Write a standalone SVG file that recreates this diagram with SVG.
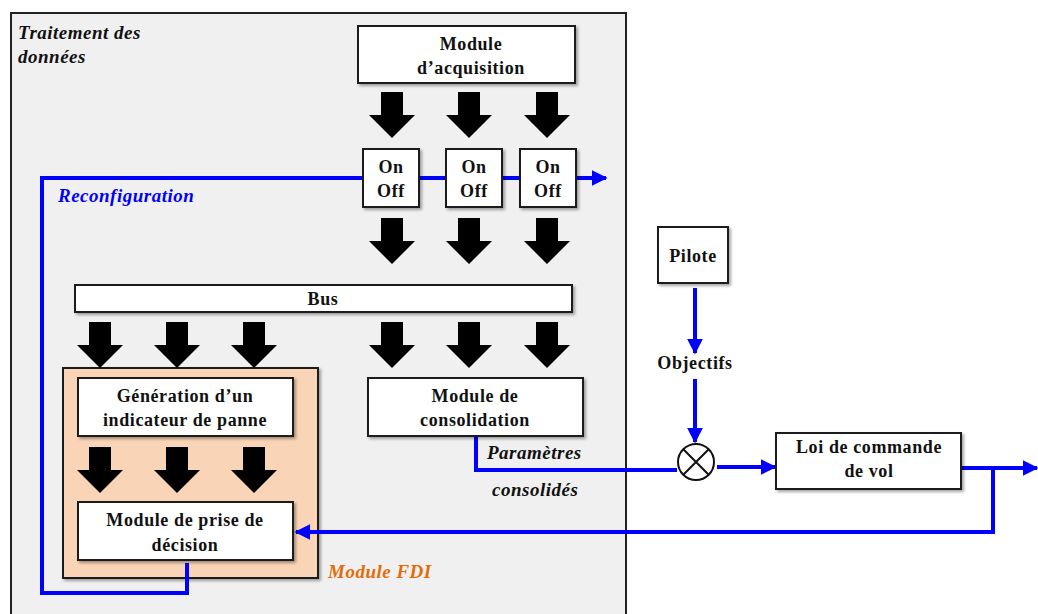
<svg xmlns="http://www.w3.org/2000/svg" width="1038" height="614" viewBox="0 0 1038 614">
<defs>
<style>
.box{fill:#fff;stroke:#1a1a1a;stroke-width:2;filter:url(#sh)}
.t{font-family:"Liberation Serif","Times New Roman",serif;font-weight:bold;font-size:18px;fill:#111;text-anchor:middle;letter-spacing:0.6px}
.ti{font-family:"Liberation Serif","Times New Roman",serif;font-weight:bold;font-style:italic;font-size:19px;letter-spacing:0.5px}
.blue{fill:none;stroke:#0000ff;stroke-width:4}
</style>
<filter id="sh" x="-10%" y="-10%" width="130%" height="140%">
<feDropShadow dx="2" dy="2" stdDeviation="1.5" flood-color="#000" flood-opacity="0.35"/>
</filter>
<path id="ba" d="M-11,0 H11 V23 H23 L0,46 L-23,23 H-11 Z" fill="#000"/>
<marker id="ah" viewBox="0 0 10 10" refX="9" refY="5" markerWidth="4" markerHeight="4" orient="auto" markerUnits="strokeWidth">
<path d="M0,0 L10,5 L0,10 Z" fill="#0000ff"/>
</marker>
</defs>
<rect width="1038" height="614" fill="#fff"/>
<g id="traitement">
<rect x="11" y="13" width="615" height="620" fill="#f0f0f0" stroke="#222" stroke-width="2"/>
<text class="ti" x="18" y="39" fill="#111">Traitement des</text>
<text class="ti" x="18" y="63" fill="#111">données</text>
</g>
<g id="fdi">
<rect x="63" y="368" width="255" height="210" fill="#fad4b6" stroke="#1a1a1a" stroke-width="2" filter="url(#sh)"/>
<text class="ti" x="328" y="578" fill="#e36c0a">Module FDI</text>
</g>
<g id="arrows">
<use href="#ba" x="392" y="92"/><use href="#ba" x="469" y="92"/><use href="#ba" x="547" y="92"/>
<use href="#ba" x="392" y="218"/><use href="#ba" x="469" y="218"/><use href="#ba" x="547" y="218"/>
<use href="#ba" x="100" y="322"/><use href="#ba" x="177" y="322"/><use href="#ba" x="254" y="322"/>
<use href="#ba" x="392" y="322"/><use href="#ba" x="469" y="322"/><use href="#ba" x="547" y="322"/>
<use href="#ba" x="100" y="447"/><use href="#ba" x="177" y="447"/><use href="#ba" x="254" y="447"/>
</g>
<g id="connectors">
<path class="blue" d="M187,563 V593 H42 V178 H606" marker-end="url(#ah)"/>
<path class="blue" d="M476,437 V470 H677"/>
<path class="blue" d="M695,288 V353" marker-end="url(#ah)"/>
<path class="blue" d="M695,379 V442" marker-end="url(#ah)"/>
<path class="blue" d="M717,467 H775" marker-end="url(#ah)"/>
<path class="blue" d="M962,468 H1037" marker-end="url(#ah)"/>
<path class="blue" d="M993,468 V532 H296" marker-end="url(#ah)"/>
</g>
<g id="acquisition">
<rect class="box" x="358" y="26" width="217" height="57"/>
<text class="t" x="471" y="50">Module</text>
<text class="t" x="471" y="74">d’acquisition</text>
</g>
<g id="onoff1">
<rect class="box" x="363" y="149" width="56" height="58"/>
<text class="t" x="391" y="173">On</text><text class="t" x="391" y="197">Off</text>
</g>
<g id="onoff2">
<rect class="box" x="446" y="149" width="56" height="58"/>
<text class="t" x="474" y="173">On</text><text class="t" x="474" y="197">Off</text>
</g>
<g id="onoff3">
<rect class="box" x="520" y="149" width="56" height="58"/>
<text class="t" x="548" y="173">On</text><text class="t" x="548" y="197">Off</text>
</g>
<g id="bus">
<rect class="box" x="75" y="285" width="497" height="27"/>
<text class="t" x="323" y="305">Bus</text>
</g>
<g id="generation">
<rect class="box" x="78" y="378" width="215" height="58"/>
<text class="t" x="185" y="402">Génération d’un</text>
<text class="t" x="185" y="426">indicateur de panne</text>
</g>
<g id="consolidation">
<rect class="box" x="368" y="378" width="215" height="58"/>
<text class="t" x="475" y="402">Module de</text>
<text class="t" x="475" y="426">consolidation</text>
</g>
<g id="decision">
<rect class="box" x="78" y="502" width="215" height="58"/>
<text class="t" x="185" y="526">Module de prise de</text>
<text class="t" x="185" y="551">décision</text>
</g>
<g id="labels">
<text class="ti" x="58" y="202" fill="#0000ff">Reconfiguration</text>
<text class="ti" x="487" y="459" fill="#111">Paramètres</text>
<text class="ti" x="492" y="496" fill="#111">consolidés</text>
<text class="t" x="695" y="369">Objectifs</text>
</g>
<g id="pilote">
<rect class="box" x="658" y="227" width="70" height="56"/>
<text class="t" x="693" y="262">Pilote</text>
</g>
<g id="multiplicateur">
<circle cx="696" cy="462" r="18" fill="#fff" stroke="#111" stroke-width="2"/>
<path d="M683.3,449.3 L708.7,474.7 M708.7,449.3 L683.3,474.7" stroke="#111" stroke-width="2"/>
</g>
<g id="loi">
<rect class="box" x="776" y="433" width="185" height="56"/>
<text class="t" x="869" y="453">Loi de commande</text>
<text class="t" x="869" y="477">de vol</text>
</g>
</svg>
